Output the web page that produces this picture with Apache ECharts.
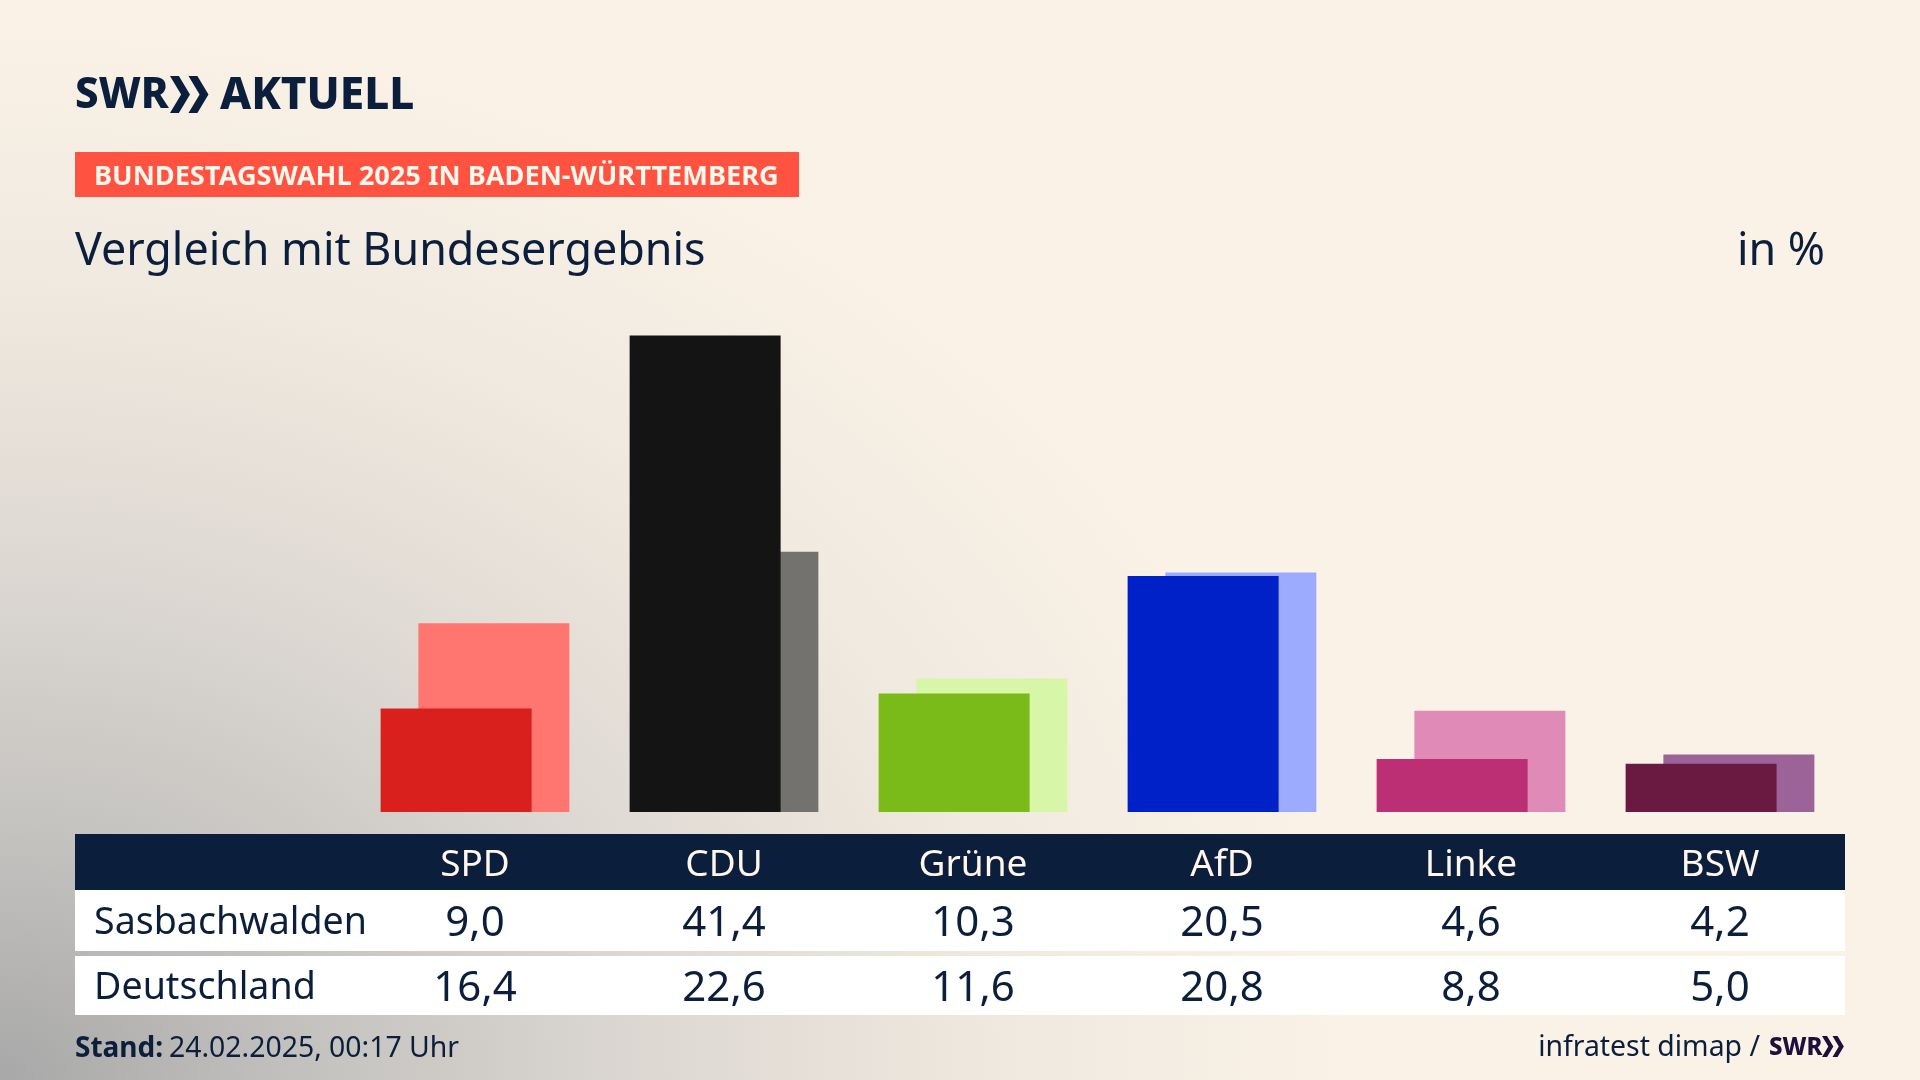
<!DOCTYPE html>
<html>
<head>
<meta charset="utf-8">
<title>Vergleich mit Bundesergebnis</title>
<script src="https://cdn.jsdelivr.net/npm/echarts@6/dist/echarts.min.js"></script>
<style>
html,body{margin:0;padding:0;background:#FAF2E7;}
#main{width:1920px;height:1080px;background:
	radial-gradient(ellipse 1350px 1060px at 0% 100%, #A8A8A8 0%, #C6C4C1 25%, #DED9D3 50%, #F0E9DF 75%, rgba(250,242,231,0) 100%), #FAF2E7;}
</style>
</head>
<body>
<div id="main"></div>
<script>
var parties = ['SPD', 'CDU', 'Grüne', 'AfD', 'Linke', 'BSW'];
var sasbachwalden = [9.0, 41.4, 10.3, 20.5, 4.6, 4.2];
var deutschland = [16.4, 22.6, 11.6, 20.8, 8.8, 5.0];
var rowNames = ['Sasbachwalden', 'Deutschland'];

var darkColors = ['#D9201C', '#141414', '#7ABB1A', '#0021C8', '#BC2F74', '#6A1A40'];
var lightColors = ['#FF756F', '#73726F', '#D7F6A8', '#9DABFF', '#E08AB7', '#9C6399'];

var navy = '#0B1F3C';
var fontName = '"Noto Sans"';

// deutsches Zahlenformat
function fmt(v) {
	return v.toFixed(1).replace('.', ',');
}

function barData(values, colors) {
	return values.map(function(v, i) {
		return { value: v, itemStyle: { color: colors[i] } };
	});
}

// Tabellenzeile als eigene x-Achse
function tableAxis(labels, color, margin, size) {
	return {
		type: 'category',
		position: 'bottom',
		data: labels,
		axisLine: { show: false },
		axisTick: { show: false },
		axisLabel: {
			interval: 0,
			margin: margin,
			color: color,
			fontFamily: fontName,
			fontSize: size,
			verticalAlign: 'middle'
		}
	};
}

// SWR-Pfeile
function chevrons(x, y, h, color) {
	var w = h * 0.3, t = h * 0.24, gap = h * 0.5;
	return [0, 1].map(function(n) {
		var x0 = x + n * gap;
		return {
			type: 'polygon',
			z: 10,
			shape: { points: [[x0, y], [x0 + t, y], [x0 + t + w, y + h / 2], [x0 + t, y + h], [x0, y + h], [x0 + w, y + h / 2]] },
			style: { fill: color }
		};
	});
}

var graphics = [
	{ type: 'rect', z: 0, shape: { x: 75, y: 152, width: 724, height: 45 }, style: { fill: '#FF5240' } },
	{ type: 'rect', z: 0, shape: { x: 75, y: 834, width: 1770, height: 56 }, style: { fill: navy } },
	{ type: 'rect', z: 0, shape: { x: 75, y: 890, width: 1770, height: 61 }, style: { fill: '#FFFFFF' } },
	{ type: 'rect', z: 0, shape: { x: 75, y: 956, width: 1770, height: 59 }, style: { fill: '#FFFFFF' } },
	{ type: 'text', z: 10, x: 75, y: 96, style: { text: 'SWR', fill: navy, font: '800 42px ' + fontName, textVerticalAlign: 'middle' } },
	{ type: 'text', z: 10, x: 220, y: 96, style: { text: 'AKTUELL', fill: navy, font: '800 44px ' + fontName, textVerticalAlign: 'middle' } },
	{ type: 'text', z: 10, x: 94, y: 177.5, style: { text: 'BUNDESTAGSWAHL 2025 IN BADEN-WÜRTTEMBERG', fill: '#FFF6EC', font: '700 27.2px ' + fontName, textVerticalAlign: 'middle' } },
	{ type: 'text', z: 10, x: 75, y: 252, style: { text: 'Vergleich mit Bundesergebnis', fill: navy, font: '44.8px ' + fontName, textVerticalAlign: 'middle' } },
	{ type: 'text', z: 10, x: 1825, y: 252, style: { text: 'in %', fill: navy, font: '44.8px ' + fontName, textAlign: 'right', textVerticalAlign: 'middle' } },
	{ type: 'text', z: 10, x: 94, y: 923.5, style: { text: rowNames[0], fill: navy, font: '37.6px ' + fontName, textVerticalAlign: 'middle' } },
	{ type: 'text', z: 10, x: 94, y: 988.5, style: { text: rowNames[1], fill: navy, font: '37.6px ' + fontName, textVerticalAlign: 'middle' } },
	{ type: 'text', z: 10, x: 75, y: 1049, style: { text: 'Stand:', fill: navy, font: '700 28px ' + fontName, textVerticalAlign: 'middle' } },
	{ type: 'text', z: 10, x: 169, y: 1049, style: { text: '24.02.2025, 00:17 Uhr', fill: navy, font: '28.4px ' + fontName, textVerticalAlign: 'middle' } },
	{ type: 'text', z: 10, x: 1760, y: 1048, style: { text: 'infratest dimap /', fill: navy, font: '28.4px ' + fontName, textAlign: 'right', textVerticalAlign: 'middle' } },
	{ type: 'text', z: 10, x: 1769, y: 1048, style: { text: 'SWR', fill: '#1E0F3C', font: '800 24px ' + fontName, textVerticalAlign: 'middle' } }
].concat(chevrons(170, 76, 37, navy), chevrons(1822, 1036, 21, '#1E0F3C'));

var chart = echarts.init(document.getElementById('main'), null, { renderer: 'canvas' });
chart.setOption({
	backgroundColor: 'transparent',
	animation: false,
	graphic: { elements: graphics },
	grid: { left: 350.5, top: 294, width: 1494, height: 518, containLabel: false },
	xAxis: [
		tableAxis(parties, '#FFF6EC', 53.5, 37),
		tableAxis(sasbachwalden.map(fmt), navy, 112, 42),
		tableAxis(deutschland.map(fmt), navy, 177, 42)
	],
	yAxis: { type: 'value', min: 0, max: 45, show: false },
	series: [
		{
			name: rowNames[0],
			type: 'bar',
			z: 3,
			barWidth: 151,
			barGap: '-75%',
			data: barData(sasbachwalden, darkColors)
		},
		{
			name: rowNames[1],
			type: 'bar',
			z: 2,
			barWidth: 151,
			barGap: '-75%',
			data: barData(deutschland, lightColors)
		}
	]
});
</script>
</body>
</html>
